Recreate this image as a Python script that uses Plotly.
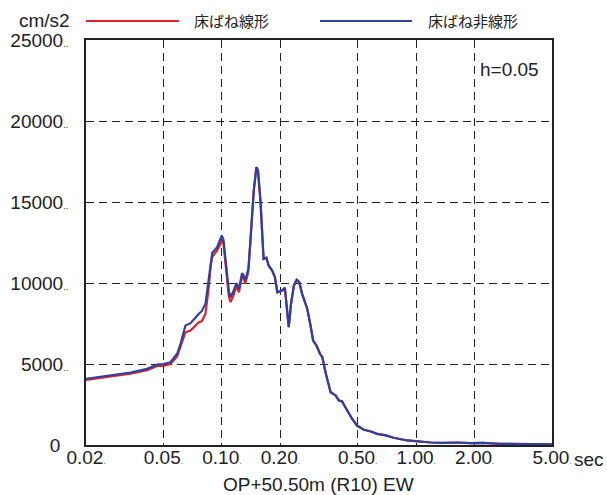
import math
import plotly.graph_objects as go

# ---- data ----
period = [0.020, 0.0278, 0.0339, 0.0413, 0.0465, 0.050, 0.0544, 0.0589, 0.0613, 0.065,
          0.069, 0.0762, 0.0788, 0.0824, 0.0857, 0.0875, 0.0892, 0.0946, 0.0984, 0.100,
          0.102, 0.1045, 0.1086, 0.1108, 0.1141, 0.119, 0.1225, 0.127, 0.1295, 0.132,
          0.137, 0.141, 0.146, 0.1506, 0.1535, 0.158, 0.161, 0.164, 0.1695, 0.174,
          0.1816, 0.1875, 0.193, 0.2046, 0.211, 0.221, 0.227, 0.235, 0.2426, 0.250,
          0.259, 0.275, 0.285, 0.295, 0.307, 0.320, 0.329, 0.343, 0.363, 0.385,
          0.400, 0.415, 0.442, 0.468, 0.496, 0.538, 0.580, 0.630, 0.698, 0.766,
          0.900, 1.00, 1.19, 1.39, 1.63, 1.90, 2.20, 2.70, 3.30, 5.00]

sa_nonlinear = [4090, 4350, 4475, 4700, 4970, 5000, 5110, 5630, 6250, 7380,
                7520, 8100, 8260, 8720, 10300, 11400, 11850, 12210, 12670, 12930,
                12670, 11390, 9540, 9120, 9430, 9990, 9640, 10610, 10460, 10150,
                10880, 13040, 15710, 17150, 16940, 15090, 13040, 11490, 11560, 11080,
                10770, 10360, 9430, 9540, 9700, 7270, 8720, 9850, 10200, 10050,
                9330, 8410, 7480, 6450, 6140, 5630, 5420, 4400, 3260, 3060,
                2750, 2700, 2130, 1620, 1200, 940, 850, 690, 590, 445,
                280, 216, 155, 135, 155, 110, 135, 75, 50, 45]

sa_linear = [4020, 4280, 4400, 4620, 4880, 4880, 5000, 5460, 6040, 6960,
             7070, 7580, 7640, 8100, 9740, 11000, 11600, 12010, 12420, 12620,
             12400, 11100, 9200, 8820, 9150, 9800, 9430, 10400, 10300, 9950,
             10700, 12900, 15710, 17150, 16940, 15090, 13040, 11490, 11560, 11080,
             10770, 10360, 9430, 9540, 9700, 7270, 8720, 9850, 10200, 10050,
             9330, 8410, 7480, 6450, 6140, 5630, 5420, 4400, 3260, 3060,
             2750, 2700, 2130, 1620, 1200, 940, 850, 690, 590, 445,
             280, 216, 155, 135, 155, 110, 135, 75, 50, 45]

x_tickvals = [0.02, 0.05, 0.10, 0.20, 0.50, 1.00, 2.00, 5.00]
x_ticklabels = ["0.02", "0.05", "0.10", "0.20", "0.50", "1.00", "2.00", "5.00"]
y_tickvals = [0, 5000, 10000, 15000, 20000, 25000]
y_ticklabels = ["0", "5000", "10000", "15000", "20000", "25000"]

name_linear = "床ばね線形"
name_nonlinear = "床ばね非線形"
red = "rgb(218,35,45)"
blue = "rgb(45,65,160)"
ink = "#222"
font_main = "Liberation Sans, Arial, sans-serif"
font_cjk = "Noto Sans CJK JP, sans-serif"

dot = "<span style='font-size:8px'>.</span>"
dots = "<span style='font-size:9px'>..</span>"
pad0 = "<span style='font-size:14px'>\u00a0\u00a0</span>"

W, H = 607, 495
L, R, T, B = 86, 55, 40, 50
pw, ph = W - L - R, H - T - B


def px_x(px):
    return (px - L) / pw


def px_y(py):
    return (H - B - py) / ph


fig = go.Figure()
fig.add_trace(go.Scatter(x=period, y=sa_linear, mode="lines", name=name_linear,
                         line=dict(color=red, width=2.2)))
fig.add_trace(go.Scatter(x=period, y=sa_nonlinear, mode="lines", name=name_nonlinear,
                         line=dict(color=blue, width=2.2)))

grid = dict(showgrid=True, gridcolor=ink, gridwidth=1.3, griddash="8px,5px")

fig.update_xaxes(type="log", range=[math.log10(0.02), math.log10(5.0)],
                 tickvals=x_tickvals,
                 ticktext=[t + dot for t in x_ticklabels],
                 ticks="", ticklabelstandoff=-6,
                 showline=True, linecolor=ink, linewidth=2, mirror=True,
                 zeroline=False,
                 tickfont=dict(family=font_main, size=19, color=ink), **grid)
fig.update_yaxes(range=[0, 25000], tickvals=y_tickvals,
                 ticktext=[(t + pad0) if t == "0" else (t + dots) for t in y_ticklabels],
                 ticks="", ticklabelstandoff=12,
                 showline=True, linecolor=ink, linewidth=2, mirror=True,
                 zeroline=False,
                 tickfont=dict(family=font_main, size=19, color=ink), **grid)

annotations = [
    dict(text="cm/s2" + dot, xref="paper", yref="paper", x=px_x(74), y=px_y(21),
         xanchor="right", yanchor="middle", showarrow=False,
         font=dict(family=font_main, size=19, color=ink)),
    dict(text="h=0.05", xref="paper", yref="paper", x=px_x(541), y=px_y(69),
         xanchor="right", yanchor="middle", showarrow=False,
         font=dict(family=font_main, size=19, color=ink)),
    dict(text="sec", xref="paper", yref="paper", x=px_x(572), y=px_y(459),
         xanchor="left", yanchor="middle", showarrow=False,
         font=dict(family=font_main, size=19, color=ink)),
    dict(text="OP+50.50m (R10) EW", xref="paper", yref="paper", x=px_x(318), y=px_y(484),
         xanchor="center", yanchor="middle", showarrow=False,
         font=dict(family=font_main, size=19, color=ink)),
    dict(text=name_linear, xref="paper", yref="paper", x=px_x(192), y=px_y(21),
         xanchor="left", yanchor="middle", showarrow=False,
         font=dict(family=font_cjk, size=15, color=ink)),
    dict(text=name_nonlinear, xref="paper", yref="paper", x=px_x(426), y=px_y(21),
         xanchor="left", yanchor="middle", showarrow=False,
         font=dict(family=font_cjk, size=15, color=ink)),
]
shapes = [
    dict(type="line", xref="paper", yref="paper", x0=px_x(86), x1=px_x(179),
         y0=px_y(21), y1=px_y(21), line=dict(color=red, width=2)),
    dict(type="line", xref="paper", yref="paper", x0=px_x(320), x1=px_x(412),
         y0=px_y(21), y1=px_y(21), line=dict(color=blue, width=2)),
]

fig.update_layout(width=W, height=H, margin=dict(l=L, r=R, t=T, b=B, autoexpand=False),
                  paper_bgcolor="white", plot_bgcolor="white",
                  showlegend=False, annotations=annotations, shapes=shapes)

fig.write_html("out.html",
               config={"displayModeBar": False},
               post_script="document.body.style.margin='0';"
                           "document.documentElement.style.overflow='hidden';")
